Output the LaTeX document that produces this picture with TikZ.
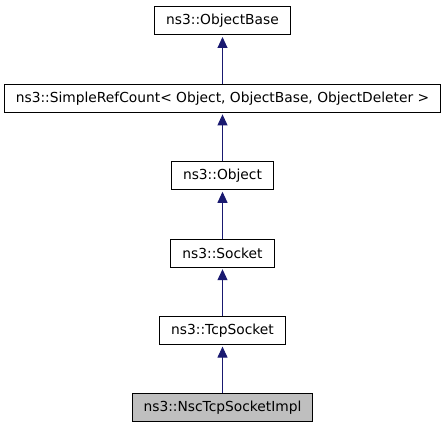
\documentclass[tikz,border=0pt]{standalone}
\usepackage{fontspec}
\setmainfont{DejaVu Sans}
\usepackage{xcolor}
\usepackage{tikz}
\usetikzlibrary{arrows.meta,positioning}

\definecolor{edgeblue}{HTML}{191970}
\definecolor{selgray}{HTML}{BFBFBF}

\begin{document}
\begin{tikzpicture}[
    x=1pt, y=1pt,
    node distance=48.4pt,
    cls/.style={rectangle, draw, line width=1pt, minimum height=28pt, inner xsep=11.5pt, inner ysep=0pt, align=center, font=\fontsize{13.8}{16}\selectfont},
    sel/.style={cls, fill=selgray},
    inherit/.style={-{Triangle[length=11pt, width=10pt]}, edgeblue, line width=1pt, shorten >=1.5pt}
]
    \useasboundingbox (0,0) rectangle (445,-427);
    \node[cls] (objbase) at (222.5,-21) {ns3::ObjectBase};
    \node[cls, below=of objbase] (refcount) {ns3::SimpleRefCount< Object, ObjectBase, ObjectDeleter >};
    \node[cls, below=of refcount] (object) {ns3::Object};
    \node[cls, below=of object] (socket) {ns3::Socket};
    \node[cls, below=of socket] (tcpsock) {ns3::TcpSocket};
    \node[sel, below=of tcpsock] (nsctcp) {ns3::NscTcpSocketImpl};

    \draw[inherit] (refcount) -- (objbase);
    \draw[inherit] (object) -- (refcount);
    \draw[inherit] (socket) -- (object);
    \draw[inherit] (tcpsock) -- (socket);
    \draw[inherit] (nsctcp) -- (tcpsock);
\end{tikzpicture}
\end{document}
